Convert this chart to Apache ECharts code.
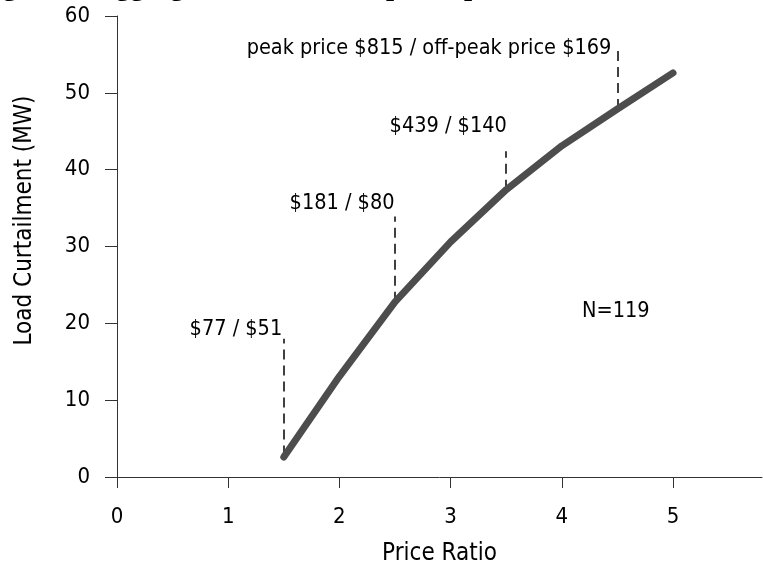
<!DOCTYPE html>
<html>
<head>
<meta charset="utf-8">
<script src="https://cdn.jsdelivr.net/npm/echarts@6/dist/echarts.min.js"></script>
<style>
html,body{margin:0;padding:0;background:#fff;}
#chart{width:763px;height:571px;}
</style>
</head>
<body>
<div id="chart"></div>
<script>
// Price ratio vs aggregate load curtailment
var priceRatio = [1.5, 2, 2.5, 3, 3.5, 4, 4.5, 5];
var curtailmentMW = [2.6, 13.1, 22.8, 30.6, 37.4, 43.1, 47.9, 52.6];

// dashed leader lines: x, bottom y, top y
var leaderX = [1.5, 2.5, 3.5, 4.5];
var leaderBottom = [2.8, 22.8, 37.4, 47.9];
var leaderTop = [18.0, 33.9, 42.4, 55.6];

// price annotations (right edge anchored)
var annoText = ['$77 / $51', '$181 / $80', '$439 / $140', 'peak price $815 / off-peak price $169'];
var annoX = [1.49, 2.5, 3.51, 4.45];
var annoY = [19.2, 35.5, 45.5, 55.7];

var noteText = 'N=119';
var noteX = 4.49, noteY = 21.5;

var xTicks = [0, 1, 2, 3, 4, 5];
var titleText = 'Figure 3. Aggregate Demand Response per Price Ratio';

var FONT = "'DejaVu Sans Condensed', 'DejaVu Sans', sans-serif";
var FS = 24;      // axis titles
var FS_TICK = 22; // tick labels
var FS_ANNO = 21.5; // annotations
var AX = '#333333';
var TXT = '#000000';

var chart = echarts.init(document.getElementById('chart'), null, {renderer: 'canvas'});

var curve = priceRatio.map(function (x, i) { return [x, curtailmentMW[i]]; });
var leaders = leaderX.map(function (x, i) { return {coords: [[x, leaderBottom[i]], [x, leaderTop[i]]]}; });
var annos = annoText.map(function (t, i) { return {name: t, value: [annoX[i], annoY[i]]}; });

chart.setOption({
  animation: false,
  backgroundColor: '#ffffff',
  graphic: [{
    type: 'text',
    left: -23,
    top: -27,
    style: {
      text: titleText,
      font: "bold 29px 'Liberation Serif', 'Times New Roman', serif",
      fill: '#000'
    }
  }],
  grid: {left: 117, right: 1, top: 16, bottom: 92, containLabel: false},
  xAxis: {
    type: 'value',
    min: 0, max: 5.8, interval: 1,
    name: 'Price Ratio',
    nameLocation: 'middle',
    nameGap: 65,
    nameTextStyle: {fontFamily: FONT, fontSize: FS, color: TXT},
    axisLine: {show: true, onZero: false, lineStyle: {color: AX, width: 1}},
    axisTick: {show: true, length: 11, customValues: xTicks, lineStyle: {color: AX}},
    axisLabel: {show: true, margin: 29, customValues: xTicks, fontFamily: FONT, fontSize: FS_TICK, color: TXT},
    splitLine: {show: false}
  },
  yAxis: {
    type: 'value',
    min: 0, max: 60, interval: 10,
    name: 'Load Curtailment (MW)',
    nameLocation: 'middle',
    nameGap: 80,
    nameTextStyle: {fontFamily: FONT, fontSize: FS, color: TXT, padding: [0, 0, 0, 52]},
    axisLine: {show: true, lineStyle: {color: AX, width: 1}},
    axisTick: {show: true, length: 12, lineStyle: {color: AX}},
    axisLabel: {margin: 27, fontFamily: FONT, fontSize: FS_TICK, color: TXT},
    splitLine: {show: false}
  },
  series: [
    {
      type: 'lines',
      coordinateSystem: 'cartesian2d',
      silent: true,
      lineStyle: {color: '#111', width: 1.6, type: [10, 6], opacity: 1},
      data: leaders,
      z: 1
    },
    {
      type: 'line',
      data: curve,
      showSymbol: false,
      symbol: 'none',
      lineStyle: {color: '#4d4d4d', width: 7, cap: 'round', join: 'round'},
      z: 3
    },
    {
      type: 'scatter',
      symbolSize: 1,
      itemStyle: {color: 'rgba(0,0,0,0)'},
      data: annos,
      label: {
        show: true,
        opacity: 1,
        position: [0, 0],
        align: 'right',
        verticalAlign: 'middle',
        formatter: function (p) { return p.name; },
        fontFamily: FONT, fontSize: FS_ANNO, color: TXT
      },
      z: 4
    },
    {
      type: 'scatter',
      symbolSize: 1,
      itemStyle: {color: 'rgba(0,0,0,0)'},
      data: [{name: noteText, value: [noteX, noteY]}],
      label: {
        show: true,
        opacity: 1,
        position: [0, 0],
        align: 'center',
        verticalAlign: 'middle',
        formatter: function (p) { return p.name; },
        fontFamily: FONT, fontSize: FS_ANNO, color: TXT
      },
      z: 4
    }
  ]
});
</script>
</body>
</html>
